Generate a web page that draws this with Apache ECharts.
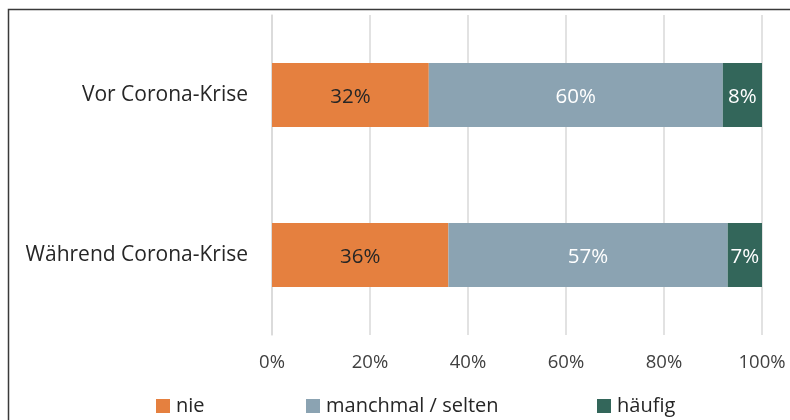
<!DOCTYPE html>
<html>
<head>
<meta charset="utf-8">
<script src="https://cdn.jsdelivr.net/npm/echarts@6/dist/echarts.min.js"></script>
<style>
  html, body { margin: 0; padding: 0; background: #fff; }
  #chart { width: 790px; height: 420px; }
</style>
</head>
<body>
<div id="chart"></div>
<script>
// Categories (top to bottom) and shares per answer, in percent
const categories = ['Vor Corona-Krise', 'Während Corona-Krise'];
const nie = [32, 36];
const manchmal = [60, 57];
const haeufig = [8, 7];
const seriesNames = ['nie', 'manchmal / selten', 'häufig'];
const xTicks = [0, 20, 40, 60, 80, 100];

const FONT = '"Open Sans", sans-serif';
const colors = ['#E5803F', '#8BA3B2', '#33665A'];

const chart = echarts.init(document.getElementById('chart'), null, { renderer: 'canvas' });

function barSeries(name, data, color, labelColor) {
  return {
    name: name,
    type: 'bar',
    stack: 'total',
    barWidth: 64,
    data: data,
    itemStyle: { color: color },
    label: {
      show: true,
      position: 'inside',
      offset: [0, 2],
      formatter: p => p.value + '%',
      color: labelColor,
      fontFamily: FONT,
      fontSize: 20.5
    },
    emphasis: { disabled: true }
  };
}

function legendAt(left, name) {
  return {
    left: left,
    top: 396,
    padding: 0,
    icon: 'rect',
    itemWidth: 14,
    itemHeight: 14,
    itemGap: 0,
    data: [name],
    textStyle: { fontFamily: FONT, fontSize: 20, color: '#262626', padding: [0, 0, 0, 1] }
  };
}

chart.setOption({
  animation: false,
  color: colors,
  graphic: [{
    type: 'rect',
    shape: { x: 8.5, y: 9.5, width: 900, height: 500 },
    style: { fill: 'none', stroke: '#3a3a3a', lineWidth: 1.5 },
    silent: true,
    z: 0
  }],
  grid: { left: 272, right: 28, top: 15, bottom: 85, containLabel: false },
  legend: [
    legendAt(156, seriesNames[0]),
    legendAt(306, seriesNames[1]),
    legendAt(597, seriesNames[2])
  ],
  xAxis: {
    type: 'value',
    min: xTicks[0],
    max: xTicks[xTicks.length - 1],
    interval: xTicks[1] - xTicks[0],
    axisLine: { show: false },
    axisTick: { show: false },
    splitLine: { show: true, lineStyle: { color: '#d9d9d9', width: 1.5 } },
    axisLabel: {
      formatter: v => v + '%',
      fontFamily: FONT,
      fontSize: 18.5,
      color: '#404040',
      margin: 18
    }
  },
  yAxis: {
    type: 'category',
    data: categories,
    inverse: true,
    axisLine: { show: true, lineStyle: { color: '#d9d9d9', width: 1.5 } },
    axisTick: { show: false },
    axisLabel: {
      fontFamily: FONT,
      fontSize: 21,
      color: '#262626',
      margin: 24,
      padding: [4, 0, 0, 0]
    }
  },
  series: [
    barSeries(seriesNames[0], nie, colors[0], '#262626'),
    barSeries(seriesNames[1], manchmal, colors[1], '#ffffff'),
    barSeries(seriesNames[2], haeufig, colors[2], '#ffffff')
  ]
});
</script>
</body>
</html>
